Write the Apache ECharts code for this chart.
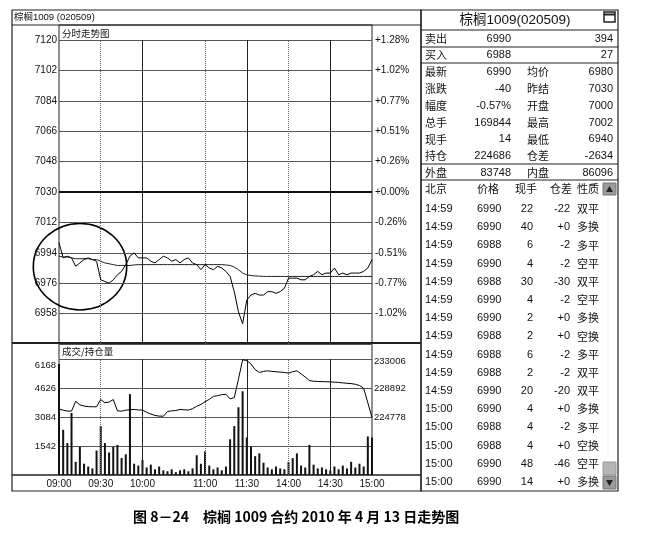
<!DOCTYPE html>
<html><head><meta charset="utf-8">
<script src="https://cdn.jsdelivr.net/npm/echarts@6/dist/echarts.min.js"></script>
<style>html,body{margin:0;padding:0;background:#fff}#c{width:665px;height:539px}</style>
</head><body><div id="c"></div>
<script>
// ---- data (3-minute samples of the trading day) ----
const price = [
 7000,6991,6992,6991,6986,6988,6990,6991,6990,6989,
 6978,6977,6976,6978,6981,6983,6987,6992,6994,6991,
 6991,6991,6989,6988,6990,6992,6991,6989,6990,6988,
 6990,6991,6988,6987,6984,6987,6985,6984,6986,6985,
 6983,6980,6971,6959,6952,6966,6969,6970,6969,6969,
 6971,6971,6970,6971,6973,6979,6979,6979,6978,6978,
 6980,6981,6983,6981,6982,6982,6985,6981,6982,6981,
 6982,6982,6982,6983,6985,6990];
const avgPrice = [
 6992,6991.5,6991.5,6991,6990.5,6990.5,6990.5,6990.5,6990,6990,
 6989,6988,6987.5,6987,6986.5,6986.5,6986.5,6986.5,6986.8,6987,
 6987,6987,6987,6987,6987,6987,6987,6987,6987,6987,
 6987,6987,6987,6987,6987,6987,6987,6987,6987,6987,
 6986.8,6986.5,6985.5,6984,6982,6981,6980.5,6980.3,6980.2,6980,
 6980,6980,6980,6980,6980,6980,6980,6980,6980,6980,
 6980,6980,6980,6980,6980,6980,6980,6980,6980,6980,
 6980,6980,6980,6980,6980,6980];
const volume = [
 5900,2400,1700,3300,700,1500,600,450,350,1300,
 2600,1700,1200,1500,1600,900,1100,4300,600,500,
 800,400,550,300,450,250,200,300,150,250,
 300,200,350,1050,600,1250,500,300,400,250,
 450,1900,2600,3600,4450,2000,1500,1000,1150,650,
 400,300,450,350,300,700,900,1150,500,400,
 1600,550,350,400,300,250,450,300,500,350,
 700,400,600,450,2050,2000];
const openInterest = [
 225900,225750,225620,225610,227000,226500,226330,226250,226230,226230,
 227250,226800,226900,227250,225650,225610,225750,225800,225850,225780,
 225750,225450,225200,225000,224900,224890,225550,225650,225700,225850,
 225800,225760,225950,226300,226560,226950,227280,227700,227800,227950,
 228000,227350,227520,230150,232900,232770,232300,231500,231100,231250,
 231330,231250,231200,231150,231100,231000,231200,231330,230900,230450,
 229950,229850,229820,229800,229780,229760,229720,229680,229620,229560,
 229520,229420,229250,228850,226800,224686];
const prevSettle = 7030;

// ---- axis ticks / labels ----
const timeTickLabels = ['09:00','09:30','10:00','11:00','11:30','14:00','14:30','15:00'];
const solidTimes = ['10:00','11:30','14:30'];
const dottedTimes = ['09:30','11:00','14:00'];
const priceTicks = [7120,7102,7084,7066,7048,7030,7012,6994,6976,6958];
const pctTickLabels = ['+1.28%','+1.02%','+0.77%','+0.51%','+0.26%','+0.00%','-0.26%','-0.51%','-0.77%','-1.02%'];
const volTicks = [6168,4626,3084,1542];
const oiTicks = [233006,228892,224778];

// ---- right panel table ----
const quoteTitle = '棕榈1009(020509)';
const quoteTop = [['卖出','6990','394'],['买入','6988','27']];
const quoteRows = [
 ['最新','6990','均价','6980'],['涨跌','-40','昨结','7030'],['幅度','-0.57%','开盘','7000'],
 ['总手','169844','最高','7002'],['现手','14','最低','6940'],['持仓','224686','仓差','-2634'],
 ['外盘','83748','内盘','86096']];
const tradeHeader = ['北京','价格','现手','仓差','性质'];
const trades = [
 ['14:59','6990','22','-22','双平'],['14:59','6990','40','+0','多换'],['14:59','6988','6','-2','多平'],
 ['14:59','6990','4','-2','空平'],['14:59','6988','30','-30','双平'],['14:59','6990','4','-2','空平'],
 ['14:59','6990','2','+0','多换'],['14:59','6988','2','+0','空换'],['14:59','6988','6','-2','多平'],
 ['14:59','6988','2','-2','双平'],['14:59','6990','20','-20','双平'],['15:00','6990','4','+0','多换'],
 ['15:00','6988','4','-2','多平'],['15:00','6988','4','+0','空换'],['15:00','6990','48','-46','空平'],
 ['15:00','6990','14','+0','多换']];

// categories: trading minutes (sessions 09:00-10:15, 10:30-11:30, 13:30-15:00), every 3 minutes
function pad(n){return (n<10?'0':'')+n;}
function tradeMinuteLabel(m){
  let t;
  if (m <= 75) t = 9*60 + m;
  else if (m <= 135) t = 10*60 + 30 + (m - 75);
  else t = 13*60 + 30 + (m - 135);
  return pad(Math.floor(t/60)) + ':' + pad(t%60);
}
const times = [];
for (let m = 0; m <= 225; m += 3) times.push(tradeMinuteLabel(m));

const FONT = 'Liberation Sans, Noto Sans CJK SC, sans-serif';
const CJK = 'Noto Sans CJK SC, Liberation Sans, sans-serif';

const vLines = solidTimes.map(t => ({xAxis: t, lineStyle: {type: 'solid', color: '#222', width: 1}}))
  .concat(dottedTimes.map(t => ({xAxis: t, lineStyle: {type: 'dotted', color: '#666', width: 1}})));

// ---- decorations ----
const G = [];
function ln(x1,y1,x2,y2,w,c,dash){G.push({type:'line',silent:true,shape:{x1,y1,x2,y2},style:{stroke:c||'#222',lineWidth:w||1,lineDash:dash||null}});}
function rc(x,y,w,h,lw,fill){G.push({type:'rect',silent:true,shape:{x,y,width:w,height:h},style:{fill:fill||null,stroke:'#222',lineWidth:lw||1}});}
function tx(s,x,y,size,align,font,weight,color){G.push({type:'text',silent:true,x,y,style:{text:s,font:(weight||'normal')+' '+size+'px '+(font||FONT),fill:color||'#111',align:align||'left',verticalAlign:'middle'}});}

// left panel frames
rc(12,10,409,481,1.2);
ln(12,25,421,25,1.2);
rc(59,25,313,318,1);
ln(12,343,421,343,2);
rc(59,343,313,132,1);
ln(12,475,421,475,1.5);
tx('棕榈1009 (020509)',14,17.5,9.5,'left',FONT);
tx('分时走势图',62,33,9.5,'left',CJK);
tx('成交/持仓量',62,351,9.5,'left',CJK);
// circle annotation
G.push({type:'circle',silent:true,x:80,y:266.7,scaleX:46.7/43.3,scaleY:1,shape:{cx:0,cy:0,r:43.3},style:{fill:null,stroke:'#000',lineWidth:1.5,strokeNoScale:true}});

// right panel
rc(421,10,197,481,1.2);
[30,47,63,164,180].forEach(y => ln(421,y,618,y,1.2));
tx(quoteTitle,515,20,13.5,'center',FONT);
rc(604,12,11,10,1.5); ln(604,14.5,615,14.5,2);
quoteTop.forEach((r,i) => { const y = 38.5 + 16.5*i; tx(r[0],425,y,11,'left',CJK); tx(r[1],511,y,11,'right'); tx(r[2],613,y,11,'right'); });
quoteRows.forEach((r,i) => { const y = 72 + 16.83*i; tx(r[0],425,y,11,'left',CJK); tx(r[1],511,y,11,'right'); tx(r[2],527,y,11,'left',CJK); tx(r[3],613,y,11,'right'); });
tx(tradeHeader[0],425,189,11,'left',CJK); tx(tradeHeader[1],477,189,11,'left',CJK);
tx(tradeHeader[2],515,189,11,'left',CJK); tx(tradeHeader[3],550,189,11,'left',CJK); tx(tradeHeader[4],577,189,11,'left',CJK);
trades.forEach((r,i) => { const y = 209 + 18.2*i; tx(r[0],425,y,11,'left'); tx(r[1],477,y,11,'left'); tx(r[2],533,y,11,'right'); tx(r[3],570,y,11,'right'); tx(r[4],577,y,11,'left',CJK); });
ln(608,198,608,458,1,'#ccc',[1,3]);
G.push({type:'rect',silent:true,shape:{x:603,y:183,width:13,height:12},style:{fill:'#9a9a9a',stroke:'#777',lineWidth:1}});
G.push({type:'polygon',silent:true,shape:{points:[[606,192],[609.5,186],[613,192]]},style:{fill:'#222'}});
G.push({type:'rect',silent:true,shape:{x:603,y:462,width:13,height:13},style:{fill:'#b5b5b5',stroke:'#999',lineWidth:1}});
G.push({type:'rect',silent:true,shape:{x:603,y:476,width:13,height:13},style:{fill:'#9a9a9a',stroke:'#777',lineWidth:1}});
G.push({type:'polygon',silent:true,shape:{points:[[606,480],[613,480],[609.5,486]]},style:{fill:'#222'}});

// caption
tx('图 8－24　棕榈 1009 合约 2010 年 4 月 13 日走势图',133,517,14,'left',CJK,'bold','#000');

const chart = echarts.init(document.getElementById('c'), null, {renderer: 'canvas'});
chart.setOption({
  animation: false,
  backgroundColor: '#fff',
  textStyle: {fontFamily: FONT},
  grid: [
    {left: 59, top: 40, width: 313, height: 304, outerBoundsMode: 'none'},
    {left: 59, top: 359, width: 313, height: 116, outerBoundsMode: 'none'}
  ],
  xAxis: [
    {type: 'category', gridIndex: 0, data: times, boundaryGap: false,
     axisLine: {show: false}, axisTick: {show: false}, axisLabel: {show: false}, splitLine: {show: false}},
    {type: 'category', gridIndex: 1, data: times, boundaryGap: false,
     axisLine: {show: false}, axisTick: {show: false}, splitLine: {show: false},
     axisLabel: {interval: (i, v) => timeTickLabels.includes(v), margin: 4, fontSize: 10, color: '#111', fontFamily: FONT,
       formatter: v => timeTickLabels.includes(v) ? v : ''}}
  ],
  yAxis: [
    {type: 'value', gridIndex: 0, position: 'left', min: 6940, max: 7120, interval: 18,
     axisLine: {show: false}, axisTick: {show: false},
     splitLine: {show: true, lineStyle: {color: '#555', width: 1}},
     axisLabel: {margin: 2, fontSize: 10, color: '#111', fontFamily: FONT,
       formatter: v => { const i = priceTicks.indexOf(Math.round(v)); return i < 0 ? '' : String(priceTicks[i]); }}},
    {type: 'value', gridIndex: 0, position: 'right', min: 6940, max: 7120, interval: 18,
     axisLine: {show: false}, axisTick: {show: false}, splitLine: {show: false},
     axisLabel: {margin: 3, fontSize: 10, color: '#111', fontFamily: FONT,
       formatter: v => { const i = priceTicks.indexOf(Math.round(v)); return i < 0 ? '' : pctTickLabels[i]; }}},
    {type: 'value', gridIndex: 1, position: 'left', min: 0, max: 6168, interval: 1542,
     axisLine: {show: false}, axisTick: {show: false},
     splitLine: {show: true, lineStyle: {color: '#555', width: 1}},
     axisLabel: {margin: 3, fontSize: 9.5, color: '#111', fontFamily: FONT,
       formatter: v => { const i = volTicks.indexOf(Math.round(v)); return i < 0 ? '' : (i === 0 ? '{lo|' + volTicks[i] + '}' : String(volTicks[i])); },
       rich: {lo: {padding: [12, 0, 0, 0], fontSize: 9.5, fontFamily: FONT, color: '#111'}}}},
    {type: 'value', gridIndex: 1, position: 'right', min: 216550, max: 233006, interval: 4114,
     axisLine: {show: false}, axisTick: {show: false}, splitLine: {show: false},
     axisLabel: {margin: 2, fontSize: 9.5, color: '#111', fontFamily: FONT,
       formatter: v => { const i = oiTicks.indexOf(Math.round(v)); return i < 0 ? '' : (i === 0 ? '{lo|' + oiTicks[i] + '}' : String(oiTicks[i])); },
       rich: {lo: {padding: [4, 0, 0, 0], fontSize: 9.5, fontFamily: FONT, color: '#111'}}}}
  ],
  series: [
    {name: '价格', type: 'line', xAxisIndex: 0, yAxisIndex: 0, data: price, symbol: 'none',
     lineStyle: {color: '#000', width: 1}, z: 5,
     markLine: {silent: true, symbol: ['none', 'none'], label: {show: false},
       data: vLines.concat([{yAxis: prevSettle, lineStyle: {type: 'solid', color: '#111', width: 2}}])}},
    {name: '均价', type: 'line', xAxisIndex: 0, yAxisIndex: 0, data: avgPrice, symbol: 'none',
     lineStyle: {color: '#222', width: 1}, z: 4},
    {name: '成交量', type: 'bar', xAxisIndex: 1, yAxisIndex: 2, data: volume, barWidth: 2, clip: false,
     itemStyle: {color: '#111'},
     markLine: {silent: true, symbol: ['none', 'none'], label: {show: false}, data: vLines}},
    {name: '持仓量', type: 'line', xAxisIndex: 1, yAxisIndex: 3, data: openInterest, symbol: 'none',
     lineStyle: {color: '#000', width: 1}, z: 5}
  ],
  graphic: {elements: G}
});
</script></body></html>
